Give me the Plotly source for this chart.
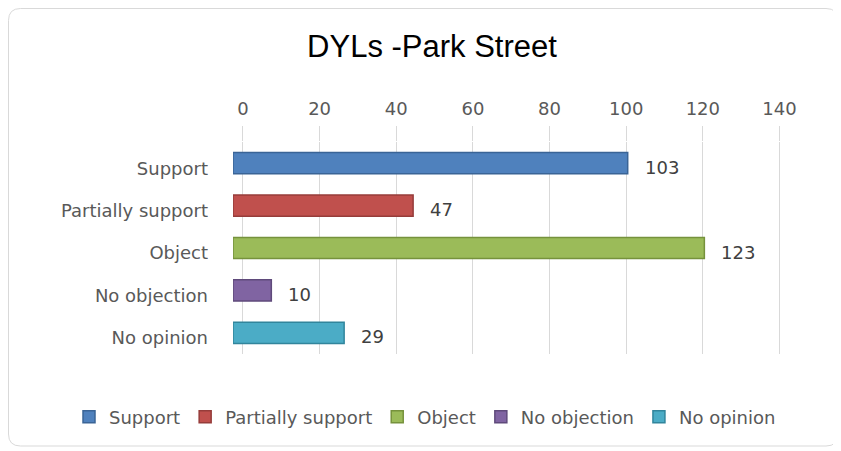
import plotly.graph_objects as go

# ── data ──────────────────────────────────────────────────────────────
categories = ["Support", "Partially support", "Object", "No objection", "No opinion"]
counts     = [103, 47, 123, 10, 29]
colors     = ["#4F81BD", "#C0504D", "#9BBB59", "#8064A2", "#4BACC6"]
edges      = ["#3A6496", "#963C3A", "#76923C", "#5F4A7B", "#31859C"]
tick_vals  = [0, 20, 40, 60, 80, 100, 120, 140]

# page has the browser's default 8px body margin, so the figure is a bit smaller
W, H = 833, 443
M_L, M_R, M_T, M_B = 225, 60, 134, 97
DEPTH = 2.6          # back-wall gridlines sit a little right of the bar faces (3D look)
TXT = "#595959"
FONT = "DejaVu Sans"
FS = 18

fig = go.Figure()

for cat, n, c, e in zip(categories, counts, colors, edges):
    fig.add_trace(go.Bar(
        y=[cat], x=[n], orientation="h", name=cat, width=0.5,
        marker=dict(color=c, line=dict(color=e, width=1.5)),
        hovertemplate="%{y}: %{x}<extra></extra>",
    ))

# value labels just right of each bar
for cat, n in zip(categories, counts):
    fig.add_annotation(x=n, y=cat, text=str(n), showarrow=False,
                       xanchor="left", xshift=15, yshift=-4,
                       font=dict(family=FONT, size=FS, color="#404040"))

# rounded frame round the whole chart (paper coords from pixel positions)
pw, ph = W - M_L - M_R, H - M_T - M_B
def px(x): return (x - M_L) / pw
def py(y): return (H - M_B - y) / ph
x0, x1, y0, y1, r = 0.5, 830, 0.5, 438, 12
path = (f"M{px(x0+r)},{py(y0)} L{px(x1-r)},{py(y0)} "
        f"Q{px(x1)},{py(y0)} {px(x1)},{py(y0+r)} L{px(x1)},{py(y1-r)} "
        f"Q{px(x1)},{py(y1)} {px(x1-r)},{py(y1)} L{px(x0+r)},{py(y1)} "
        f"Q{px(x0)},{py(y1)} {px(x0)},{py(y1-r)} L{px(x0)},{py(y0+r)} "
        f"Q{px(x0)},{py(y0)} {px(x0+r)},{py(y0)} Z")
fig.add_shape(type="path", path=path, xref="paper", yref="paper",
              line=dict(color="#D9D9D9", width=1), layer="below")

fig.update_layout(
    width=W, height=H,
    margin=dict(l=M_L, r=M_R, t=M_T, b=M_B),
    paper_bgcolor="white", plot_bgcolor="white",
    barmode="overlay",
    font=dict(family=FONT, size=FS, color=TXT),
    title=dict(text="DYLs -Park Street", x=424 / W, xref="container", xanchor="center",
               y=1 - 38 / H, yanchor="middle",
               font=dict(family="Liberation Sans", size=31, color="#000000")),
    xaxis=dict(range=[0, 143], side="top",
               tickvals=[v + DEPTH for v in tick_vals],
               ticktext=[str(v) for v in tick_vals],
               showgrid=True, gridcolor="#D9D9D9", gridwidth=1,
               ticks="outside", ticklen=15, tickcolor="#D9D9D9",
               ticklabelstandoff=4, zeroline=False, showline=False,
               tickfont=dict(size=FS, color=TXT), fixedrange=True),
    yaxis=dict(categoryorder="array", categoryarray=categories[::-1],
               range=[-0.5, 4.5], showgrid=False, zeroline=False,
               ticklabelstandoff=24, ticklabelshift=5,
               tickfont=dict(size=FS, color=TXT), fixedrange=True),
    # anchored left of the plot area and below it, so it may use the full width
    legend=dict(orientation="h", x=px(61), xref="paper", xanchor="left",
                y=py(409), yref="paper", yanchor="middle",
                font=dict(size=FS, color=TXT), itemwidth=30,
                traceorder="normal"),
    showlegend=True,
)

fig.write_html("out.html")
